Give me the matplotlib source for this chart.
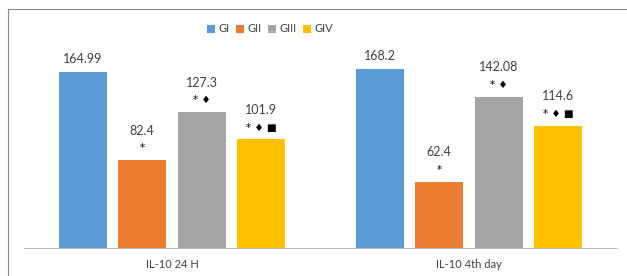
import matplotlib.pyplot as plt
from matplotlib.patches import Rectangle
import numpy as np

plt.rcParams['font.family'] = ['Lato', 'DejaVu Sans']

groups = ["IL-10 24 H", "IL-10 4th day"]
series = ["GI", "GII", "GIII", "GIV"]
colors = ["#5b9bd5", "#ed7d31", "#a5a5a5", "#ffc000"]
values = {
    "GI":   [164.99, 168.2],
    "GII":  [82.4, 62.4],
    "GIII": [127.3, 142.08],
    "GIV":  [101.9, 114.6],
}
value_labels = {
    "GI":   ["164.99", "168.2"],
    "GII":  ["82.4", "62.4"],
    "GIII": ["127.3", "142.08"],
    "GIV":  ["101.9", "114.6"],
}
marks = {
    "GI":   ["", ""],
    "GII":  ["*", "*"],
    "GIII": ["* \u2666", "* \u2666"],
    "GIV":  ["* \u2666 \u25a0", "* \u2666 \u25a0"],
}

fig = plt.figure(figsize=(6.27, 2.76), dpi=100)
fig.patches.append(Rectangle((8 / 627, -0.1), 1.0, 1.1 - 9 / 276,
                             transform=fig.transFigure, fill=False,
                             edgecolor="#888888", linewidth=0.8))
ax = fig.add_axes([23.5 / 627, 28 / 276, 594 / 627, 213 / 276])

x = np.arange(len(groups))
step = 0.2
width = 0.162
for i, s in enumerate(series):
    xs = x + (i - 1.5) * step
    ax.bar(xs, values[s], width, color=colors[i], label=s)
    for xi, v, lab, mk in zip(xs, values[s], value_labels[s], marks[s]):
        if mk:
            ax.annotate(mk, (xi, v), xytext=(0, 5), textcoords="offset points",
                        ha="center", va="bottom", fontsize=7.5,
                        family="DejaVu Sans", color="#000000")
            off = 17
        else:
            off = 5
        ax.annotate(lab, (xi, v), xytext=(0, off), textcoords="offset points",
                    ha="center", va="bottom", fontsize=9, color="#404040")

ax.set_xlim(-0.5, 1.5)
ax.set_ylim(0, 200)
ax.set_yticks([])
ax.set_xticks(x)
ax.set_xticklabels(groups, fontsize=8, color="#404040")
ax.tick_params(axis="x", length=0, pad=8)
for sp in ["top", "left", "right"]:
    ax.spines[sp].set_visible(False)
ax.spines["bottom"].set_color("#bfbfbf")
ax.patch.set_visible(False)

fig.legend(loc="center", bbox_to_anchor=(270 / 627, 1 - 29 / 276), ncol=4,
           frameon=False, fontsize=8, handlelength=0.7, handleheight=0.7,
           handletextpad=0.3, columnspacing=0.6, labelcolor="#404040")

fig.savefig("out.png", dpi=100)
